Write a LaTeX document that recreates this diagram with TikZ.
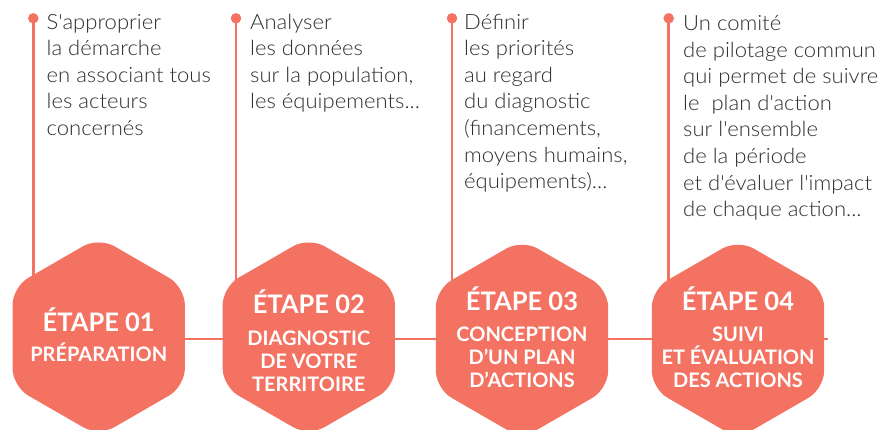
\documentclass[tikz,border=0pt]{standalone}
\usepackage{fontspec}
\IfFontExistsTF{Lato Light}{\setmainfont{Lato Light}[BoldFont=Lato Bold]}{\setmainfont{Lato}}
\IfFontExistsTF{Lato Light}{\newfontfamily\descfont{Lato Light}[FakeStretch=1.05]}{\newfontfamily\descfont{Lato}[FakeStretch=1.05]}
\usetikzlibrary{shapes.geometric,backgrounds}
\definecolor{coral}{HTML}{F37262}
\definecolor{txt}{HTML}{2E2E2E}
\newcommand\apos{{\char"0027}}
\begin{document}
\begin{tikzpicture}[x=1pt,y=-1pt,
  hexa/.style={regular polygon, regular polygon sides=6, shape border rotate=30,
    minimum size=199pt, inner sep=0pt, fill=coral, rounded corners=18pt},
  lnk/.style={draw=coral, line width=2.6pt},
  dotmark/.style={circle, fill=coral, minimum size=10.5pt, inner sep=0pt},
  desc/.style={anchor=base west, align=left, inner sep=0pt, text=txt,
    font=\descfont\fontsize{21}{26.6}\selectfont},
  lbl/.style={anchor=base, align=center, inner sep=0pt, text=white,
    font=\bfseries\fontsize{20}{22.8}\selectfont}]
\useasboundingbox (0,0) rectangle (879,429);
% hexagons
\node[hexa] (hex1) at (98.7,336.7) {};
\node[hexa] (hex2) at (308.8,336.7) {};
\node[hexa] (hex3) at (522,339) {};
\node[hexa] (hex4) at (738,339) {};
% dots
\node[dotmark] (dot1) at (33.3,18.3) {};
\node[dotmark] (dot2) at (236,18.3) {};
\node[dotmark] (dot3) at (452,18.3) {};
\node[dotmark] (dot4) at (668.7,18.3) {};
\coordinate (lineend) at (828,339);
\begin{scope}[on background layer]
  \draw[lnk] (hex1.center |- lineend) -- (lineend);
  \foreach \i in {1,2,3,4} \draw[lnk] (dot\i.center) -- (dot\i |- hex\i.center);
\end{scope}
% descriptions (anchored at the baseline of the last line)
\node[desc] (d1) at (46.5,135.4) {S'approprier\\la démarche\\en associant tous\\les acteurs\\concernés};
\node[desc] (d2) at (250,108.8) {Analyser\\les données\\sur la population,\\les équipements...};
\node[desc] (d3) at (464,188.6) {Définir\\les priorités\\au regard\\du diagnostic\\(financements,\\moyens humains,\\équipements)...};
\node[desc] (d4) at (683,216.7) {Un comité\\de pilotage commun\\qui permet de suivre\\le\ \ plan d'action\\sur l'ensemble\\de la période\\et d'évaluer l'impact\\de chaque action...};
% labels (anchored at the baseline of the last line)
\node[lbl] (t1) at (98.7,361) {{\fontsize{25.5}{25.5}\selectfont ÉTAPE 01}\\[7pt]PRÉPARATION};
\node[lbl] (t2) at (308.8,391) {{\fontsize{25.5}{25.5}\selectfont ÉTAPE 02}\\[9pt]DIAGNOSTIC\\DE VOTRE\\TERRITOIRE};
\node[lbl] (t3) at (522,387) {{\fontsize{25.5}{25.5}\selectfont ÉTAPE 03}\\[8.5pt]CONCEPTION\\D\apos UN PLAN\\D\apos ACTIONS};
\node[lbl] (t4) at (738,387) {{\fontsize{25.5}{25.5}\selectfont ÉTAPE 04}\\[8.5pt]SUIVI\\ET ÉVALUATION\\DES ACTIONS};
\end{tikzpicture}
\end{document}
